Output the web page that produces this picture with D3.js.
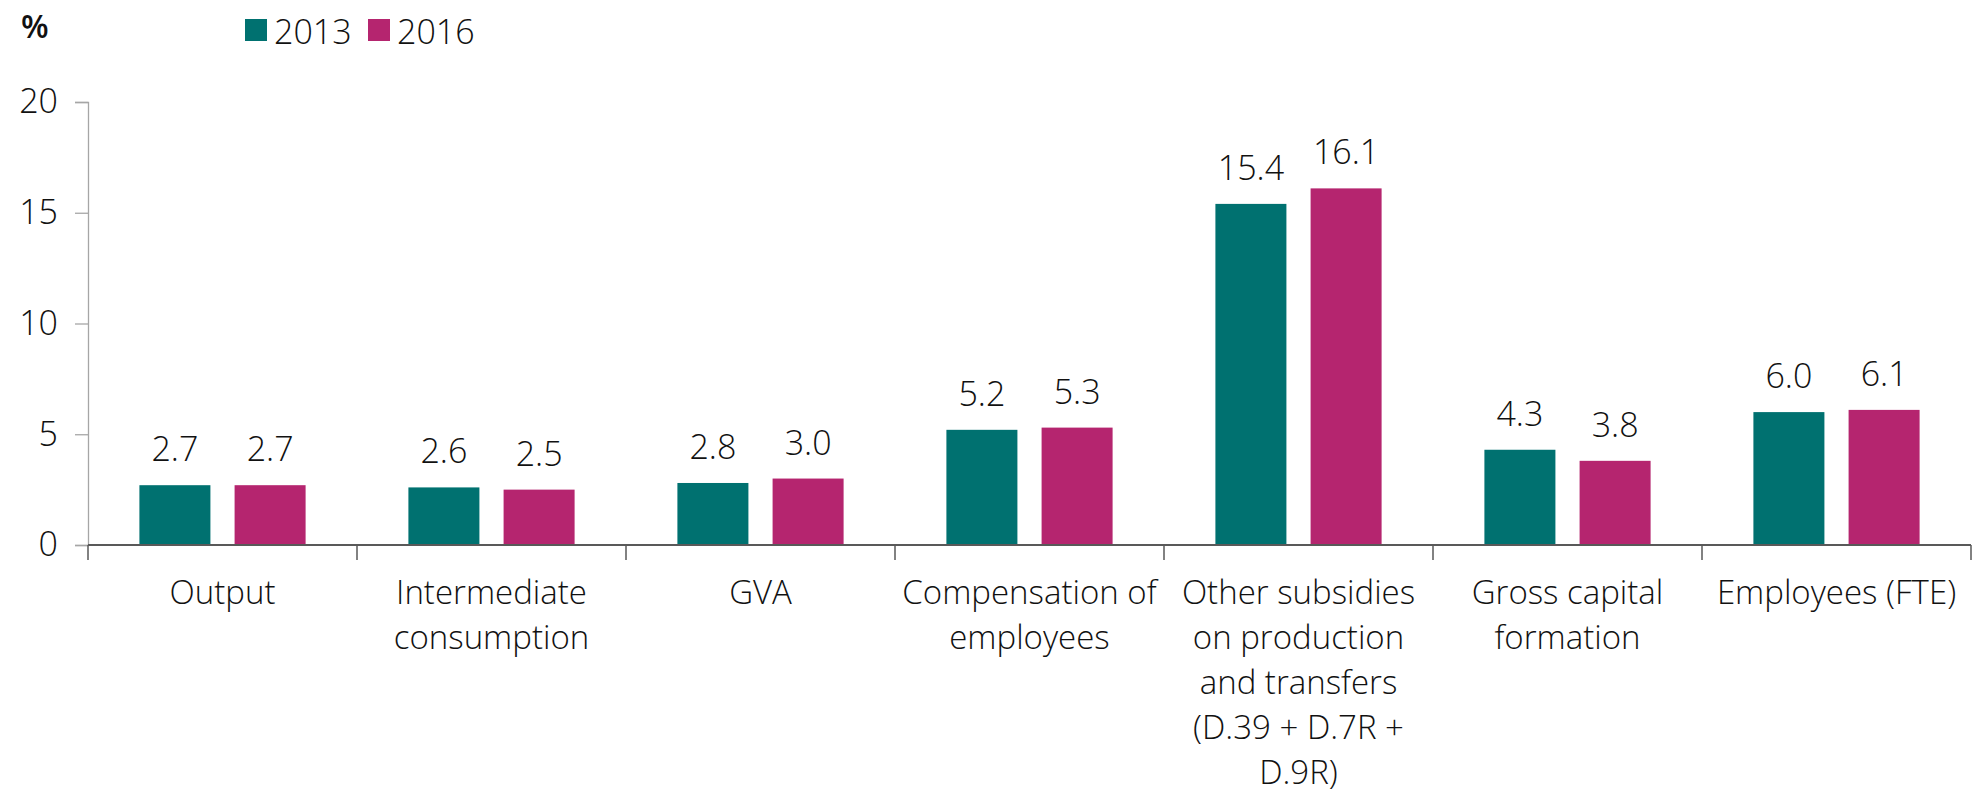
<!DOCTYPE html>
<html><head><meta charset="utf-8">
<script src="https://cdn.jsdelivr.net/npm/d3@7"></script>
<style>
html,body{margin:0;padding:0;background:#fff;}
svg{display:block;font-family:"Open Sans",sans-serif;font-weight:300;}
</style></head>
<body><svg id="c" width="1972" height="794"></svg>
<script>
const categories = [
  ["Output"],
  ["Intermediate","consumption"],
  ["GVA"],
  ["Compensation of","employees"],
  ["Other subsidies","on production","and transfers","(D.39 + D.7R +","D.9R)"],
  ["Gross capital","formation"],
  ["Employees (FTE)"]
];
const seriesNames = ["2013","2016"];
const values2013 = [2.7, 2.6, 2.8, 5.2, 15.4, 4.3, 6.0];
const values2016 = [2.7, 2.5, 3.0, 5.3, 16.1, 3.8, 6.1];
const yTicks = [0,5,10,15,20];
const colors = ["#007170","#b5256f"];

(function(){
const svg = d3.select("#c");
const mLeft = 88, mRight = 1971, mTop = 102, mBottom = 545;
const fsCat = 33, fsNum = 34;

const x0 = d3.scaleBand().domain(d3.range(categories.length)).range([mLeft,mRight]).paddingInner(0).paddingOuter(0);
const x1 = d3.scaleBand().domain(seriesNames).range([0,x0.bandwidth()]).paddingInner(0.254).paddingOuter(0.54);
const y = d3.scaleLinear().domain([0,20]).range([mBottom,mTop]);

const series = [values2013, values2016];

const g = svg.append("g");
categories.forEach((c,i)=>{
  seriesNames.forEach((s,j)=>{
    const v = series[j][i];
    g.append("rect")
      .attr("x", x0(i)+x1(s))
      .attr("y", y(v))
      .attr("width", x1.bandwidth())
      .attr("height", y(0)-y(v))
      .attr("fill", colors[j]);
    g.append("text")
      .attr("x", x0(i)+x1(s)+x1.bandwidth()/2)
      .attr("y", y(v)-24)
      .attr("text-anchor","middle")
      .attr("font-size",fsNum)
      .attr("fill","#111")
      .text(v.toFixed(1));
  });
});

const yAxis = d3.axisLeft(y).tickValues(yTicks).tickSize(13).tickPadding(17);
const ya = svg.append("g").attr("transform",`translate(${mLeft},0)`).call(yAxis);
ya.select(".domain").attr("stroke","#a6a6a6").attr("stroke-width",1.3);
ya.selectAll(".tick line").attr("stroke","#a6a6a6").attr("stroke-width",1.3);
ya.selectAll(".tick text").attr("font-size",fsNum).attr("fill","#111").attr("font-family","Open Sans").attr("font-weight",300);

const xa = svg.append("g").attr("transform",`translate(0,${mBottom})`);
xa.append("line").attr("x1",mLeft).attr("x2",mRight).attr("stroke","#595959").attr("stroke-width",2);
const bounds = d3.range(categories.length+1).map(i=> i<categories.length ? x0(i) : mRight);
xa.selectAll("line.tk").data(bounds).enter().append("line").attr("class","tk")
  .attr("x1",d=>d).attr("x2",d=>d).attr("y1",0).attr("y2",15)
  .attr("stroke","#595959").attr("stroke-width",1.5);

categories.forEach((lines,i)=>{
  const t = svg.append("text")
    .attr("x", x0(i)+x0.bandwidth()/2)
    .attr("y", 604)
    .attr("text-anchor","middle")
    .attr("font-size",fsCat)
    .attr("fill","#111");
  lines.forEach((ln,k)=>{
    t.append("tspan").attr("x", x0(i)+x0.bandwidth()/2).attr("y", 604+k*45).text(ln);
  });
});

svg.append("text").attr("x",21).attr("y",38).attr("font-size",32).attr("font-weight",600).attr("fill","#111").text("%");

const legX = [245, 368];
seriesNames.forEach((s,j)=>{
  svg.append("rect").attr("x",legX[j]).attr("y",19).attr("width",22).attr("height",22).attr("fill",colors[j]);
  svg.append("text").attr("x",legX[j]+29).attr("y",44).attr("font-size",fsNum).attr("fill","#111").text(s);
});
})();
</script>
</body></html>
